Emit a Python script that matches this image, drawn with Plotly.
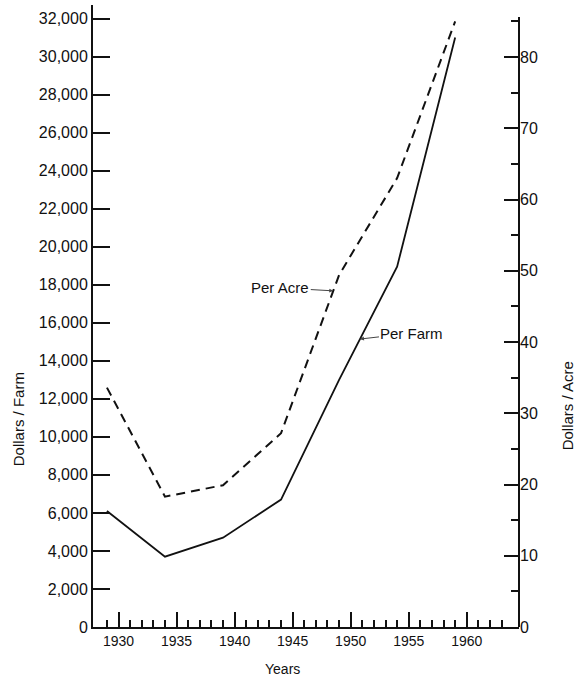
import numpy as np
import plotly.graph_objects as go

# ---- data ----
years = [1929, 1934, 1939, 1944, 1949, 1954, 1959]
per_farm = [6100, 3700, 4700, 6700, 13000, 18950, 31000]      # dollars / farm (left axis)
per_acre = [33.6, 18.3, 19.9, 27.2, 49.4, 63.0, 85.0]         # dollars / acre (right axis)

left_ticks = list(range(0, 32001, 2000))
right_ticks = list(range(0, 81, 10))
right_minor = list(range(5, 86, 10))
year_ticks = list(range(1930, 1961, 5))
year_minor = list(range(1929, 1964))

FONT = "Liberation Sans, Arial, sans-serif"
BLACK = "#111111"

fig = go.Figure()
fig.add_trace(go.Scatter(x=years, y=per_farm, mode="lines",
                         line=dict(color=BLACK, width=1.8), yaxis="y",
                         name="Per Farm", showlegend=False))
fig.add_trace(go.Scatter(x=years, y=per_acre, mode="lines",
                         line=dict(color=BLACK, width=2, dash="9px,6px"), yaxis="y2",
                         name="Per Acre", showlegend=False))

fig.update_layout(
    width=577, height=678,
    margin=dict(l=93, r=58, t=5, b=51),
    paper_bgcolor="white", plot_bgcolor="white",
    font=dict(family=FONT, color=BLACK),
    xaxis=dict(range=[1927.8, 1964.5], showgrid=False, zeroline=False,
               showline=True, linecolor=BLACK, linewidth=2,
               ticks="inside", ticklen=15, tickwidth=2, tickcolor=BLACK,
               tickmode="array", tickvals=year_ticks,
               ticktext=[str(v) for v in year_ticks],
               tickfont=dict(size=14, family=FONT),
               minor=dict(tickmode="array", tickvals=year_minor, ticks="inside",
                          ticklen=7, tickwidth=2, tickcolor=BLACK, showgrid=False)),
    yaxis=dict(range=[0, 32711], showgrid=False, zeroline=False,
               showline=True, linecolor=BLACK, linewidth=2,
               ticks="inside", ticklen=17, tickwidth=2, tickcolor=BLACK,
               tickmode="array", tickvals=left_ticks,
               ticktext=[f"{v:,}" for v in left_ticks],
               tickfont=dict(size=16, family=FONT)),
    yaxis2=dict(range=[0, 87.3], overlaying="y", side="right",
                showgrid=False, zeroline=False, showline=False,
                ticks="inside", ticklen=15, tickwidth=2, tickcolor=BLACK,
                tickmode="array", tickvals=right_ticks,
                ticktext=[str(v) for v in right_ticks],
                tickfont=dict(size=16, family=FONT),
                minor=dict(tickmode="array", tickvals=right_minor, ticks="inside",
                           ticklen=8, tickwidth=2, tickcolor=BLACK, showgrid=False)),
)

# right axis spine (shorter than the left one)
fig.add_shape(type="line", xref="paper", yref="y2", x0=1, x1=1, y0=0, y1=85.6,
              line=dict(color=BLACK, width=2))

# axis titles
fig.add_annotation(text="Dollars / Farm", xref="paper", yref="paper",
                   x=-0.176, y=0.334, xanchor="center", yanchor="middle",
                   textangle=-90, showarrow=False,
                   font=dict(size=15, family=FONT))
fig.add_annotation(text="Dollars / Acre", xref="paper", yref="paper",
                   x=1.113, y=0.355, xanchor="center", yanchor="middle",
                   textangle=-90, showarrow=False,
                   font=dict(size=15, family=FONT))
fig.add_annotation(text="Years", xref="paper", yref="paper",
                   x=0.445, y=-0.068, xanchor="center", yanchor="middle",
                   showarrow=False,
                   font=dict(size=14, family=FONT))

# series labels with leader arrows
acre_x = 1948.5
fig.add_annotation(text="Per Acre", x=acre_x, y=float(np.interp(acre_x, years, per_acre)),
                   xref="x", yref="y2", showarrow=True, ax=-53, ay=-3,
                   arrowhead=2, arrowsize=0.8, arrowwidth=1, arrowcolor="#444",
                   font=dict(size=15, family=FONT))
farm_x = 1950.8
fig.add_annotation(text="Per Farm", x=farm_x, y=float(np.interp(farm_x, years, per_farm)),
                   xref="x", yref="y", showarrow=True, ax=52, ay=-6,
                   arrowhead=2, arrowsize=0.8, arrowwidth=1, arrowcolor="#444",
                   font=dict(size=15, family=FONT))

fig.write_html("out.html")
